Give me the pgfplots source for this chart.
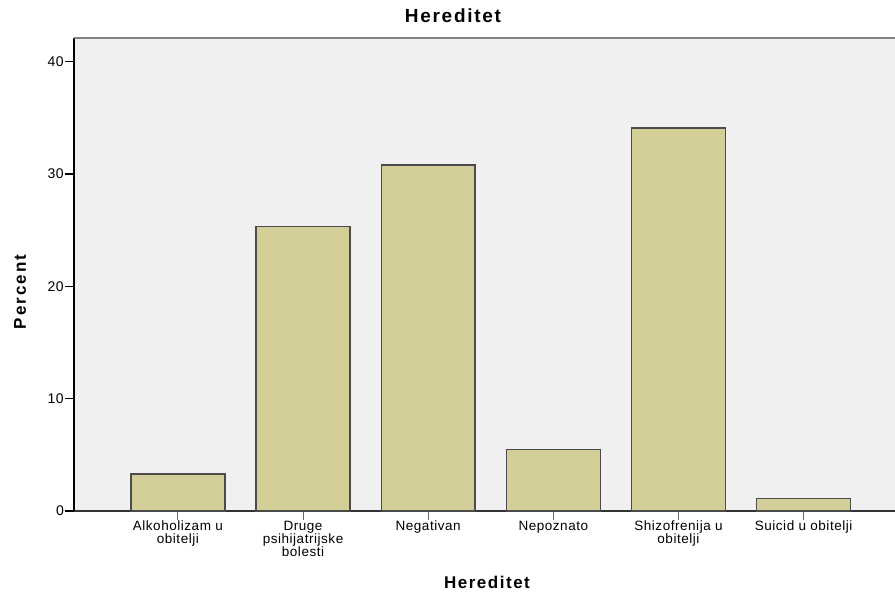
\documentclass[border=0pt]{standalone}
\usepackage{pgfplots}
\pgfplotsset{compat=1.18}
\usepackage{fontspec}
\setmainfont{Liberation Sans}
\newfontfamily\tickfont[LetterSpace=4]{Liberation Sans}
\newfontfamily\labfont[LetterSpace=9]{Liberation Sans}
\newfontfamily\ylabfont[LetterSpace=12]{Liberation Sans}

\definecolor{spssbar}{RGB}{211,206,151}
\definecolor{spssbg}{RGB}{240,240,240}
\definecolor{baredge}{RGB}{75,75,75}

\begin{document}
\begin{tikzpicture}
\useasboundingbox (-74pt,-81pt) rectangle (821pt,511pt);
\begin{axis}[
  at={(0,0)}, anchor=south west,
  scale only axis, width=821pt, height=473pt,
  xmin=-0.83, xmax=5.73,
  ymin=0, ymax=42.1,
  axis x line*=bottom, axis y line*=left,
  x axis line style={draw=black!80, line width=1.6pt, -},
  y axis line style={draw=black, line width=1.2pt, -},
  axis background/.style={fill=spssbg},
  tick align=outside, major tick length=9pt,
  xtick={0,1,2,3,4,5},
  xticklabels={{Alkoholizam u\\obitelji},{Druge\\psihijatrijske\\bolesti},{Negativan},{Nepoznato},{Shizofrenija u\\obitelji},{Suicid u obitelji}},
  xticklabel style={font=\fontsize{13.5}{13}\selectfont\tickfont, align=center, inner sep=1pt},
  xtick style={draw=black!60, line width=1pt},
  ytick={0,10,20,30,40},
  yticklabel style={font=\fontsize{14}{14}\selectfont\tickfont, inner sep=1pt},
  ytick style={draw=black, line width=1.2pt},
  /pgf/number format/assume math mode=true,
  title={Hereditet},
  title style={font=\fontsize{19}{19}\selectfont\labfont\bfseries, at={(axis description cs:0.4616,1.021)}, anchor=base, inner sep=0pt},
  xlabel={Hereditet},
  xlabel style={font=\fontsize{17}{17}\selectfont\labfont\bfseries, at={(axis description cs:0.503,-0.163)}, anchor=base, inner sep=0pt},
  ylabel={Percent},
  ylabel style={font=\fontsize{17}{17}\selectfont\ylabfont\bfseries, at={(axis description cs:-0.0585,0.463)}, anchor=base, rotate=0, inner sep=0pt},
  ybar, bar width=0.75,
  after end axis/.code={\draw[black!50, line width=1.5pt] (rel axis cs:0,1) -- (rel axis cs:1,1);},
]
\addplot[fill=spssbar, draw=baredge, line width=1.4pt] coordinates {
  (0,3.3) (1,25.3) (2,30.8) (3,5.5) (4,34.1) (5,1.1)
};
\end{axis}
\end{tikzpicture}
\end{document}
